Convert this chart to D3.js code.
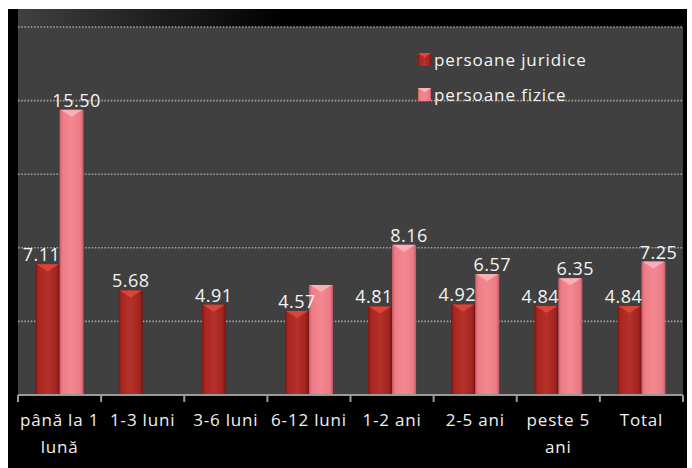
<!DOCTYPE html>
<html>
<head>
<meta charset="utf-8">
<script src="https://cdn.jsdelivr.net/npm/d3@7"></script>
<style>
  body { margin: 0; background: #fff; }
  svg { display: block; }
  text { font-family: "Open Sans", sans-serif; }
</style>
</head>
<body>
<div class="chart"></div>
<script>
// chart data
var categories = ["până la 1 lună", "1-3 luni", "3-6 luni", "6-12 luni", "1-2 ani", "2-5 ani", "peste 5 ani", "Total"];
var categoryLines = [["până la 1", "lună"], ["1-3 luni"], ["3-6 luni"], ["6-12 luni"], ["1-2 ani"], ["2-5 ani"], ["peste 5", "ani"], ["Total"]];
var juridice = [7.11, 5.68, 4.91, 4.57, 4.81, 4.92, 4.84, 4.84];
var fizice = [15.50, null, null, 5.98, 8.16, 6.57, 6.35, 7.25];
// the 6-12 luni label for persoane fizice is not shown in the picture
var fiziceLabels = ["15.50", null, null, null, "8.16", "6.57", "6.35", "7.25"];
var juridiceLabels = juridice.map(d => d.toFixed(2));
var seriesNames = ["persoane juridice", "persoane fizice"];
var yTicks = [0, 4, 8, 12, 16, 20];

var svgWidth = 692;
var svgHeight = 468;

var svg = d3.select(".chart")
  .append("svg")
  .attr("width", svgWidth)
  .attr("height", svgHeight);

var defs = svg.append("defs");

// gradients for the bar faces
function barGradient(id, stops) {
  var g = defs.append("linearGradient")
    .attr("id", id)
    .attr("x1", "0%").attr("x2", "100%")
    .attr("y1", "0%").attr("y2", "0%");
  stops.forEach(function (s) {
    g.append("stop").attr("offset", s[0]).attr("stop-color", s[1]);
  });
}
barGradient("redBar", [["0%", "#7e1410"], ["12%", "#a82620"], ["50%", "#b5322a"], ["88%", "#a02420"], ["100%", "#76120e"]]);
barGradient("pinkBar", [["0%", "#c85a66"], ["12%", "#ee7c88"], ["50%", "#f3888f"], ["88%", "#ec7a86"], ["100%", "#c45866"]]);

var topFade = defs.append("linearGradient")
  .attr("id", "topFade")
  .attr("x1", "0%").attr("x2", "100%");
topFade.append("stop").attr("offset", "0%").attr("stop-color", "#404040");
topFade.append("stop").attr("offset", "40%").attr("stop-color", "#000");

// black chart background
svg.append("rect")
  .attr("x", 8).attr("y", 9)
  .attr("width", 679).attr("height", svgHeight - 9)
  .attr("fill", "#000");

var margin = { top: 27, left: 18, right: 9, bottom: 73 };
var width = svgWidth - margin.left - margin.right;
var height = svgHeight - margin.top - margin.bottom;

var chartGroup = svg.append("g")
  .attr("transform", `translate(${margin.left}, ${margin.top})`);

// plot area
chartGroup.append("rect")
  .attr("x", 0).attr("y", -18)
  .attr("width", width).attr("height", 18)
  .attr("fill", "url(#topFade)");

chartGroup.append("rect")
  .attr("width", width)
  .attr("height", height)
  .attr("fill", "#404040");

// scales
var x0 = d3.scaleBand()
  .domain(categories)
  .range([0, width]);

var x1 = d3.scaleBand()
  .domain(seriesNames)
  .range([x0.bandwidth() / 2 - 24, x0.bandwidth() / 2 + 24]);

var y = d3.scaleLinear()
  .domain([0, 20])
  .range([height, 0]);

// dotted gridlines
chartGroup.selectAll(".grid")
  .data(yTicks.filter(d => d > 0))
  .enter()
  .append("line")
  .attr("x1", 0).attr("x2", width)
  .attr("y1", d => y(d)).attr("y2", d => y(d))
  .attr("stroke", "#a0a0a0")
  .attr("stroke-width", 1.6)
  .attr("stroke-dasharray", "1.6,1.6");

// bars
function drawBars(values, name, fillId, topColor) {
  var data = values.map((v, i) => ({ cat: categories[i], v: v }))
    .filter(d => d.v != null);
  var g = chartGroup.append("g");
  var bw = x1.bandwidth();
  g.selectAll("rect")
    .data(data)
    .enter()
    .append("rect")
    .attr("x", d => x0(d.cat) + x1(name))
    .attr("y", d => y(d.v))
    .attr("width", bw)
    .attr("height", d => height - y(d.v))
    .attr("fill", `url(#${fillId})`);
  // bevel highlight on top of each bar
  g.selectAll("path")
    .data(data)
    .enter()
    .append("path")
    .attr("d", function (d) {
      var bx = x0(d.cat) + x1(name);
      var by = y(d.v);
      return `M${bx + 1},${by} L${bx + bw - 1},${by} L${bx + bw / 2},${by + 7} Z`;
    })
    .attr("fill", topColor)
    .attr("opacity", 0.9);
}
drawBars(juridice, seriesNames[0], "redBar", "#e0483c");
drawBars(fizice, seriesNames[1], "pinkBar", "#fbb4bc");

// value labels
function drawLabels(values, labels, name, dx) {
  chartGroup.append("g")
    .selectAll("text")
    .data(values.map((v, i) => ({ cat: categories[i], v: v, t: labels[i], i: i }))
      .filter(d => d.t != null))
    .enter()
    .append("text")
    .attr("x", d => x0(d.cat) + x1(name) + x1.bandwidth() / 2 + (fiziceLabels[d.i] != null && juridice[d.i] != null ? dx : 0))
    .attr("y", d => y(d.v) - 3)
    .attr("text-anchor", "middle")
    .attr("fill", "#f4f4f4")
    .attr("font-size", "18px")
    .attr("letter-spacing", "0.5px")
    .text(d => d.t);
}
drawLabels(juridice, juridiceLabels, seriesNames[0], -6);
drawLabels(fizice, fiziceLabels, seriesNames[1], 5);

// x axis
var axisG = chartGroup.append("g")
  .attr("transform", `translate(0, ${height})`);

axisG.append("line")
  .attr("x1", 0).attr("x2", width)
  .attr("stroke", "#9a9a9a")
  .attr("stroke-width", 2);

axisG.selectAll(".tick")
  .data(categories.map(c => x0(c)).concat([width]))
  .enter()
  .append("line")
  .attr("x1", d => d).attr("x2", d => d)
  .attr("y1", 0).attr("y2", 7)
  .attr("stroke", "#9a9a9a")
  .attr("stroke-width", 2);

var catLabels = axisG.selectAll(".cat")
  .data(categories)
  .enter()
  .append("text")
  .attr("x", d => x0(d) + x0.bandwidth() / 2)
  .attr("y", 31)
  .attr("text-anchor", "middle")
  .attr("fill", "#f0f0f0")
  .attr("font-size", "17px")
  .attr("letter-spacing", "0.8px");

catLabels.each(function (d, i) {
  var t = d3.select(this);
  categoryLines[i].forEach(function (line, j) {
    t.append("tspan")
      .attr("x", x0(d) + x0.bandwidth() / 2)
      .attr("dy", j === 0 ? 0 : 27)
      .text(line);
  });
});

// legend
var legend = svg.append("g")
  .attr("transform", "translate(418, 53)");

var legendColors = ["url(#redBar)", "url(#pinkBar)"];
var legendTops = ["#e0483c", "#fbb4bc"];

seriesNames.forEach(function (name, i) {
  var row = legend.append("g")
    .attr("transform", `translate(0, ${i * 35})`);
  row.append("rect")
    .attr("width", 13).attr("height", 13)
    .attr("fill", legendColors[i]);
  row.append("path")
    .attr("d", "M0,0 L13,0 L6.5,4.5 Z")
    .attr("fill", legendTops[i]);
  row.append("text")
    .attr("x", 16)
    .attr("y", 13)
    .attr("fill", "#f4f4f4")
    .attr("font-size", "17px")
    .attr("letter-spacing", "0.9px")
    .text(name);
});
</script>
</body>
</html>
